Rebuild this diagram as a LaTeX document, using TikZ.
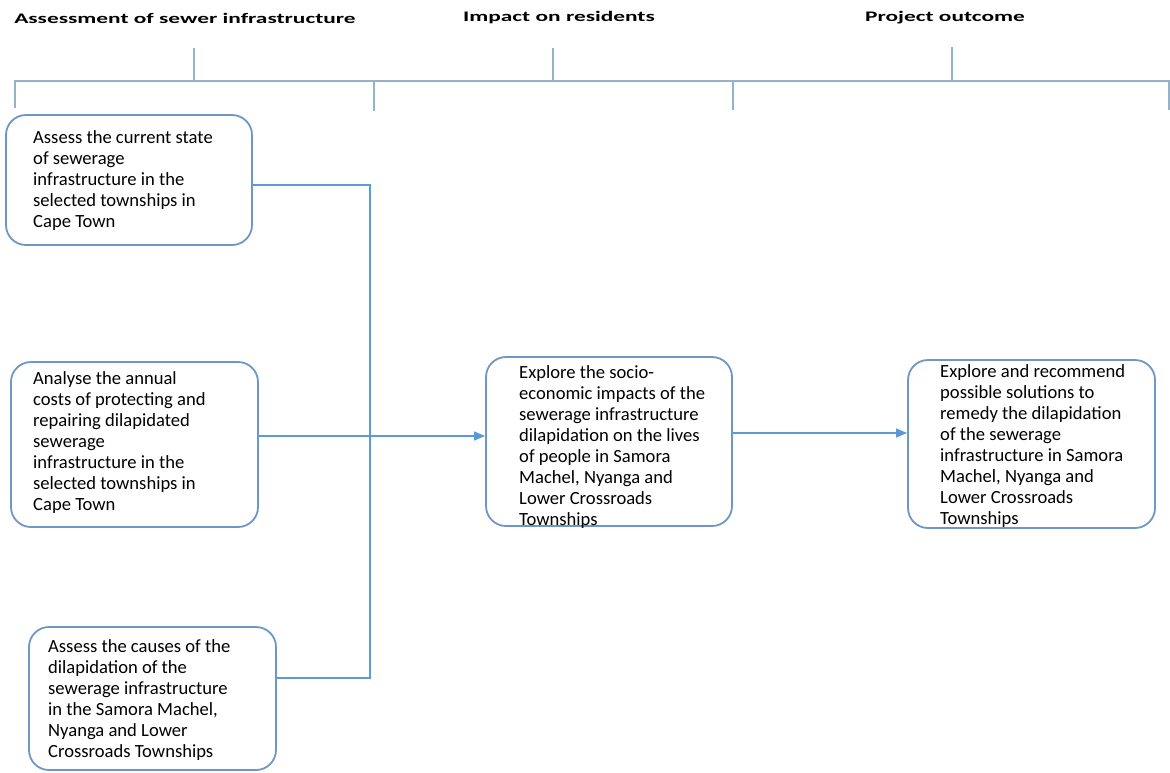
\documentclass[tikz,border=0pt]{standalone}
\usepackage{fontspec}
\setmainfont{Carlito}
\newfontfamily\headfont[FakeStretch=1.6]{Carlito}
\usetikzlibrary{arrows.meta}
\definecolor{boxblue}{RGB}{110,150,198}
\definecolor{flowblue}{RGB}{91,155,213}
\definecolor{bracketgrey}{RGB}{150,178,200}
\tikzset{
  stage box/.style={
    draw=boxblue,line width=1.8pt,rounded corners=20pt,fill=white,
    inner sep=0pt
  },
  stage text/.style={
    anchor=west,align=left,inner sep=0pt,
    font=\fontsize{18.6}{21}\selectfont
  },
  stage head/.style={font=\headfont\bfseries\fontsize{14.6}{16}\selectfont,inner sep=0pt},
  stage bracket/.style={bracketgrey,line width=1.4pt},
  stage flow/.style={flowblue,line width=1.2pt},
  stage arrow/.style={stage flow,-{Triangle[length=11pt,width=9pt]}}
}
\newcommand{\stageboxat}[4]{%
  \node[stage box,minimum width=#3,minimum height=#4] (#1) at (#2) {};%
}

\begin{document}
\begin{tikzpicture}[x=1pt,y=-1pt]
  \useasboundingbox (0,0) rectangle (1170,772);
  % column heads
  \node[stage head] (headsewer) at (185,18) {Assessment of sewer infrastructure};
  \node[stage head] (headimpact) at (559,18) {Impact on residents};
  \node[stage head] (headoutcome) at (945,18) {Project outcome};
  \draw[stage bracket] (15,108) -- (15,81) -- (1169,81) -- (1169,110)
    (374,81) -- (374,111) (733,81) -- (733,110)
    (194,48) -- (194,81) (553,48) -- (553,81) (952,47) -- (952,81);
  % boxes
  \stageboxat{state}{129,180}{246pt}{130pt}
  \stageboxat{costs}{134.5,444.5}{247pt}{165pt}
  \stageboxat{causes}{152.5,698.5}{247pt}{143pt}
  \stageboxat{impacts}{609,441.5}{246pt}{169pt}
  \stageboxat{remedy}{1031.5,444}{247pt}{168pt}
  \node[stage text] (statetxt) at (33,181) {Assess the current state\\of sewerage\\infrastructure in the\\selected townships in\\Cape Town};
  \node[stage text] (coststxt) at (33,442.5) {Analyse the annual\\costs of protecting and\\repairing dilapidated\\sewerage\\infrastructure in the\\selected townships in\\Cape Town};
  \node[stage text] (causestxt) at (48,700.5) {Assess the causes of the\\dilapidation of the\\sewerage infrastructure\\in the Samora Machel,\\Nyanga and Lower\\Crossroads Townships};
  \node[stage text] (impactstxt) at (519,447.5) {Explore the socio-\\economic impacts of the\\sewerage infrastructure\\dilapidation on the lives\\of people in Samora\\Machel, Nyanga and\\Lower Crossroads\\Townships};
  \node[stage text] (remedytxt) at (940,446.5) {Explore and recommend\\possible solutions to\\remedy the dilapidation\\of the sewerage\\infrastructure in Samora\\Machel, Nyanga and\\Lower Crossroads\\Townships};
  % connectors
  \coordinate (bustop) at (370,185);
  \coordinate (busbot) at (370,678);
  \draw[stage flow] ([yshift=-5pt]state.east) -- (bustop) -- (busbot)
    -- ([yshift=20.5pt]causes.east);
  \draw[stage arrow] ([yshift=8.5pt]costs.east) -- ([yshift=5.5pt]impacts.west);
  \draw[stage arrow] ([yshift=8.5pt]impacts.east) -- ([yshift=11pt]remedy.west);
\end{tikzpicture}
\end{document}
